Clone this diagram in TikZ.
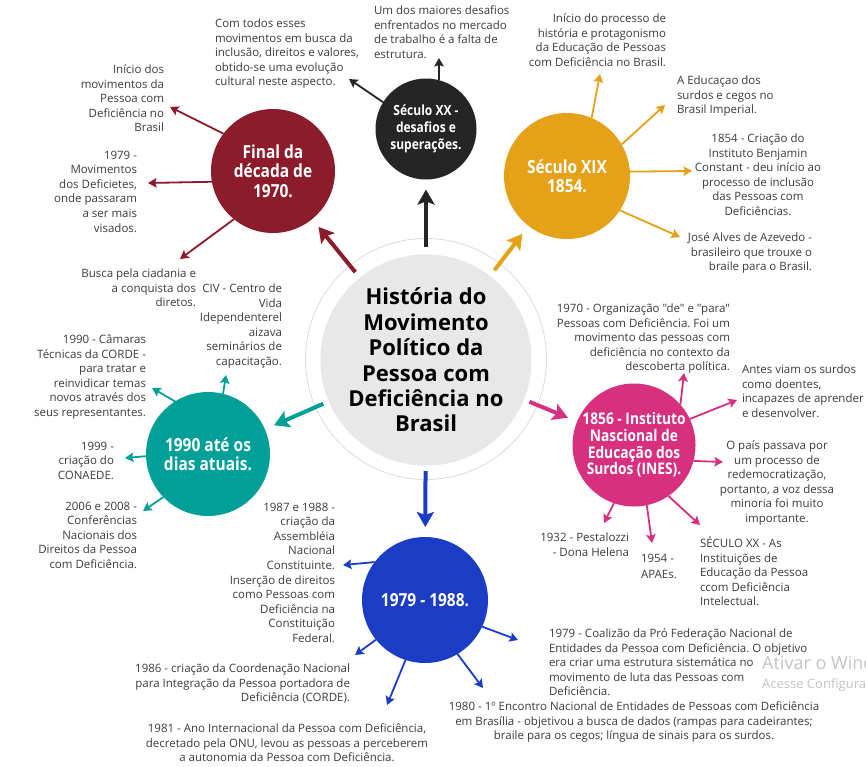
\documentclass[tikz,border=0pt]{standalone}
\usepackage{fontspec}
\setmainfont{Open Sans}[Ligatures=TeXOff]
\newfontfamily\condf[FakeStretch=0.86]{Open Sans}
\usetikzlibrary{arrows.meta}
\frenchspacing
\definecolor{cRed}{HTML}{8C1B2B}
\definecolor{cBlack}{HTML}{252525}
\definecolor{cGold}{HTML}{E5A117}
\definecolor{cTeal}{HTML}{00A099}
\definecolor{cMag}{HTML}{D6307F}
\definecolor{cBlue}{HTML}{1B3DC6}
\definecolor{cDisk}{HTML}{E8E8E8}
\definecolor{cRing}{HTML}{DCDCDC}
\definecolor{txtc}{HTML}{3C3C3C}
\definecolor{wmc}{HTML}{C4C4C4}
\begin{document}
\begin{tikzpicture}[x=1pt,y=-1pt,
  bub/.style={circle, inner sep=0pt, outer sep=0pt, text=white, align=center,
    font=\condf\bfseries\fontsize{18}{19.5}\selectfont},
  txt/.style={inner sep=0pt, outer sep=0pt, text=txtc, yshift=-4pt,
    font=\fontsize{11.5}{14.6}\selectfont\frenchspacing, execute at begin node=\strut},
  sarr/.style={line width=1.8pt, -{Stealth[length=8.5pt,width=9.5pt,inset=1.5pt]}},
  barr/.style={line width=4pt, -{Stealth[length=15pt,width=17pt,inset=3pt]}, shorten >=10pt},
]
\useasboundingbox (0,0) rectangle (866,766);
\fill[white] (0,0) rectangle (866,766);

% centre
\node[circle, draw=cRing, line width=0.8pt, minimum size=241pt, inner sep=0pt] (ring) at (426,359) {};
\node[circle, minimum size=224pt, inner sep=0pt, outer sep=0pt] (hub) at (426,359) {};
\node[circle, fill=cDisk, minimum size=196pt, inner sep=0pt, align=center,
  font=\bfseries\fontsize{22}{25.4}\selectfont, text=black] (title) at (426,360)
  {História do\\Movimento\\Político da\\Pessoa com\\Deficiência no\\Brasil};

% bubbles
\node[bub, fill=cRed, minimum size=124pt] (r70) at (273,171) {Final da\\década de\\1970.};
\node[bub, fill=cBlack, minimum size=101pt, font=\condf\bfseries\fontsize{14}{16.8}\selectfont] (s20) at (426,129) {Século XX -\\desafios e\\superações.};
\node[bub, fill=cGold, minimum size=126pt] (s19) at (567,176) {Século XIX\\1854.};
\node[bub, fill=cTeal, minimum size=124pt] (d90) at (208,454) {1990 até os\\dias atuais.};
\node[bub, fill=cMag, minimum size=123pt, font=\condf\bfseries\fontsize{16}{16.7}\selectfont] (ines) at (634,445) {1856 - Instituto\\Nascional de\\Educação dos\\Surdos (INES).};
\node[bub, fill=cBlue, minimum size=126pt] (b79) at (425,600) {1979 - 1988.};

% thick arrows
\draw[barr, cRed] (hub) -- (r70);
\draw[barr, cBlack] (hub) -- (s20);
\draw[barr, cGold] (hub) -- (s19);
\draw[barr, cTeal] (hub) -- (d90);
\draw[barr, cMag] (hub) -- (ines);
\draw[barr, cBlue] (hub) -- (b79);

% texts
\node[txt, anchor=north west, align=left] (t1) at (215,14.7) {Com todos esses\\movimentos em busca da\\inclusão, direitos e valores,\\obtido-se uma evolução\\cultural neste aspecto.};
\node[txt, anchor=north west, align=left] (t2) at (374,1.7) {Um dos maiores desafios\\enfrentados no mercado\\de trabalho é a falta de\\estrutura.};
\node[txt, anchor=north east, align=right] (t3) at (164,60.7) {Início dos\\movimentos da\\Pessoa com\\Deficiência no\\Brasil};
\node[txt, anchor=north east, align=right] (t4) at (137,146.7) {1979 -\\Movimentos\\dos Deficietes,\\onde passaram\\a ser mais\\visados.};
\node[txt, anchor=north east, align=right] (t5) at (196,264.7) {Busca pela ciadania e\\a conquista dos\\diretos.};
\node[txt, anchor=north east, align=right] (t6) at (282,279.7) {CIV - Centro de\\Vida\\Idependenterel\\aizava\\seminários de\\capacitação.};
\node[txt, anchor=north east, align=right] (t7) at (146,330.7) {1990 - Câmaras\\Técnicas da CORDE -\\para tratar e\\reinvidicar temas\\novos através dos\\seus representantes.};
\node[txt, anchor=north east, align=right] (t8) at (114,437.7) {1999 -\\criação do\\CONAEDE.};
\node[txt, anchor=north east, align=right] (t9) at (137,497.7) {2006 e 2008 -\\Conferências\\Nacionais dos\\Direitos da Pessoa\\com Deficiência.};
\node[txt, anchor=north east, align=right] (t10) at (335,498.7) {1987 e 1988 -\\criação da\\Assembléia\\Nacional\\Constituinte.\\Inserção de direitos\\como Pessoas com\\Deficiência na\\Constituição\\Federal.};
\node[txt, anchor=north east, align=right] (t11) at (350,659.7) {1986 - criação da Coordenação Nacional\\para Integração da Pessoa portadora de\\Deficiência (CORDE).};
\node[txt, anchor=north, align=center] (t12) at (287,719.7) {1981 - Ano Internacional da Pessoa com Deficiência,\\decretado pela ONU, levou as pessoas a perceberem\\a autonomia da Pessoa com Deficiência.};
\node[txt, anchor=north, align=center] (t13) at (634,697.7) {1980 - 1º Encontro Nacional de Entidades de Pessoas com Deficiência\\em Brasília - objetivou a busca de dados (rampas para cadeirantes;\\braile para os cegos; língua de sinais para os surdos.};
\node[txt, anchor=north west, align=left] (t14) at (549,624.7) {1979 - Coalizão da Pró Federação Nacional de\\Entidades da Pessoa com Deficiência. O objetivo\\era criar uma estrutura sistemática no\\movimento de luta das Pessoas com\\Deficiência.};
\node[txt, anchor=north east, align=right] (t16) at (629,528.7) {1932 - Pestalozzi\\- Dona Helena};
\node[txt, anchor=north west, align=left, font=\fontsize{11.5}{16}\selectfont] (t17) at (641,549.7) {1954 -\\APAEs.};
\node[txt, anchor=north west, align=left] (t18) at (700,532.7) {SÉCULO XX - As\\Instituições de\\Educação da Pessoa\\ccom Deficiência\\Intelectual.};
\node[txt, anchor=north, align=center] (t19) at (777,436.7) {O país passava por\\um processo de\\redemocratização,\\portanto, a voz dessa\\minoria foi muito\\importante.};
\node[txt, anchor=north west, align=left] (t20) at (742,360.7) {Antes viam os surdos\\como doentes,\\incapazes de aprender\\e desenvolver.};
\node[txt, anchor=north east, align=right] (t21) at (730,299.7) {1970 - Organização "de" e "para"\\Pessoas com Deficiência. Foi um\\movimento das pessoas com\\deficiência no contexto da\\descoberta política.};
\node[txt, anchor=north east, align=right] (t22) at (666,9.7) {Início do processo de\\história e protagonismo\\da Educação de Pessoas\\com Deficiência no Brasil.};
\node[txt, anchor=north west, align=left] (t23) at (677,71.7) {A Educaçao dos\\surdos e cegos no\\Brasil Imperial.};
\node[txt, anchor=north, align=center] (t24) at (758,129.7) {1854 - Criação do\\Instituto Benjamin\\Constant - deu início ao\\processo de inclusão\\das Pessoas com\\Deficiências.};
\node[txt, anchor=north east, align=right] (t25) at (812,228.7) {José Alves de Azevedo -\\brasileiro que trouxe o\\braile para o Brasil.};

% arrow tip coordinates
\coordinate (a1) at (170,107);
\coordinate (a2) at (148,183);
\coordinate (a3) at (180,259);
\coordinate (k1) at (349,79);
\coordinate (k2) at (439,58);
\coordinate (g1) at (600,74);
\coordinate (g2) at (665,105);
\coordinate (g3) at (692,171);
\coordinate (g4) at (680,237);
\coordinate (e1) at (226,375);
\coordinate (e2) at (152,388);
\coordinate (e3) at (125,458);
\coordinate (e4) at (143,511);
\coordinate (m1) at (684,373);
\coordinate (m2) at (737,400);
\coordinate (m3) at (723,462);
\coordinate (m4) at (700,525);
\coordinate (m5) at (652,543);
\coordinate (m6) at (604,523);
\coordinate (u1) at (343,565);
\coordinate (u2) at (355,655);
\coordinate (u3) at (387,705);
\coordinate (u4) at (483,688);
\coordinate (u5) at (518,640);

% small arrows
\draw[sarr, cRed] (r70.143) -- (a1);
\draw[sarr, cRed] (r70.190) -- (a2);
\draw[sarr, cRed] (r70.231) -- (a3);
\draw[sarr, cBlack] (s20.148) -- (k1);
\draw[sarr, cBlack] (s20.75) -- (k2);
\draw[sarr, cGold] (s19.67) -- (g1);
\draw[sarr, cGold] (s19.30) -- (g2);
\draw[sarr, cGold] (s19.4) -- (g3);
\draw[sarr, cGold] (s19.-33) -- (g4);
\draw[sarr, cTeal] (d90.76) -- (e1);
\draw[sarr, cTeal] (d90.122) -- (e2);
\draw[sarr, cTeal] (d90.182) -- (e3);
\draw[sarr, cTeal] (d90.224) -- (e4);
\draw[sarr, cMag] (ines.41) -- (m1);
\draw[sarr, cMag] (ines.25) -- (m2);
\draw[sarr, cMag] (ines.-15) -- (m3);
\draw[sarr, cMag] (ines.-56) -- (m4);
\draw[sarr, cMag] (ines.-78) -- (m5);
\draw[sarr, cMag] (ines.-109) -- (m6);
\draw[sarr, cBlue] (b79.143) -- (u1);
\draw[sarr, cBlue] (b79.219) -- (u2);
\draw[sarr, cBlue] (b79.252) -- (u3);
\draw[sarr, cBlue] (b79.301) -- (u4);
\draw[sarr, cBlue] (b79.335) -- (u5);

% watermark
\begin{scope}
\clip (0,0) rectangle (866,766);
\node[anchor=west, inner sep=0pt, text=wmc, font=\fontsize{18}{21}\selectfont] (wm1) at (762,663) {Ativar o Windows};
\node[anchor=west, inner sep=0pt, text=wmc, font=\fontsize{13}{15}\selectfont] (wm2) at (762,685) {Acesse Configurações para ativar o Windows.};
\end{scope}
\end{tikzpicture}
\end{document}
